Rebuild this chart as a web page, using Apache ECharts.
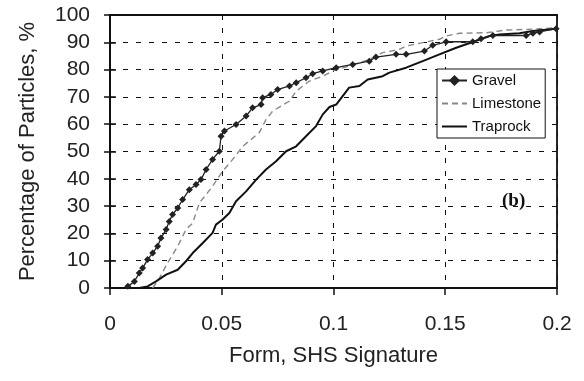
<!DOCTYPE html>
<html>
<head>
<meta charset="utf-8">
<script src="https://cdn.jsdelivr.net/npm/echarts@6/dist/echarts.min.js"></script>
<style>
  html, body { margin: 0; padding: 0; background: #fff; }
  #chart { width: 584px; height: 381px; }
</style>
</head>
<body>
<div id="chart"></div>
<script>
// x = Form (SHS signature), y = cumulative percentage of particles
var gravel = [
  [0.008, 0.6], [0.0109, 2.4], [0.0131, 5.5], [0.0146, 7.3], [0.0168, 10.4],
  [0.0191, 12.8], [0.0213, 15.3], [0.0228, 18.3], [0.0251, 21.4], [0.0265, 24.4],
  [0.028, 26.9], [0.0303, 29.3], [0.0325, 32.4], [0.0355, 36], [0.0385, 37.9],
  [0.0407, 39.7], [0.043, 43.4], [0.0459, 47.1], [0.0489, 50.1], [0.0497, 55.6],
  [0.0512, 57.5], [0.0564, 59.9], [0.0609, 63], [0.0638, 66], [0.0676, 67.2],
  [0.0683, 69.7], [0.072, 70.9], [0.075, 72.7], [0.0803, 74], [0.0833, 75.2],
  [0.0877, 77], [0.0907, 78.5], [0.0952, 79.5], [0.1012, 80.7], [0.1086, 81.9],
  [0.116, 83.1], [0.119, 84.6], [0.128, 85.6], [0.1325, 85.6], [0.1407, 86.8],
  [0.1444, 88.9], [0.1504, 90.2], [0.1623, 90.2], [0.166, 91.3], [0.1713, 92.5],
  [0.1862, 92.5], [0.1892, 93.3], [0.1922, 93.8], [0.1996, 95]
];
var limestone = [
  [0.019, 0], [0.0213, 2.4], [0.0258, 9.2], [0.0303, 15.3], [0.034, 21.4],
  [0.037, 23.8], [0.04, 31.2], [0.043, 34.2], [0.0459, 37.3], [0.0504, 42.8],
  [0.0549, 47.1], [0.0594, 51.9], [0.0668, 56.9], [0.0698, 61.7], [0.0728, 64.8],
  [0.0803, 68.5], [0.0833, 72.1], [0.0892, 75.8], [0.0952, 77.6], [0.0996, 79.5],
  [0.107, 81.3], [0.116, 83.7], [0.122, 86.2], [0.1295, 87.4], [0.1325, 88.6],
  [0.1399, 89.9], [0.1474, 91.1], [0.1504, 92.3], [0.1563, 93.3], [0.1683, 93.5],
  [0.1772, 94.5], [0.1862, 94.7], [0.1996, 95.3]
];
var traprock = [
  [0.0131, 0], [0.0168, 0.6], [0.0206, 2.4], [0.0251, 4.9], [0.0303, 6.7],
  [0.034, 9.8], [0.037, 12.8], [0.0415, 16.5], [0.0459, 20.2], [0.0474, 23.2],
  [0.0504, 25.1], [0.0534, 27.5], [0.0564, 31.8], [0.0609, 35.4], [0.0654, 39.7],
  [0.0698, 43.4], [0.0743, 46.4], [0.0788, 50.1], [0.0833, 51.9], [0.0877, 55.6],
  [0.0922, 59.3], [0.0952, 63.6], [0.0982, 66.3], [0.1012, 67.2], [0.1041, 70.3],
  [0.107, 73.4], [0.1116, 74], [0.1153, 76.4], [0.122, 77.6], [0.125, 78.9],
  [0.1325, 80.7], [0.1399, 83.1], [0.1474, 85.6], [0.1549, 88], [0.1623, 90.1],
  [0.1698, 92.3], [0.1743, 92.9], [0.1832, 93.3], [0.1892, 94.1], [0.1996, 95]
];
var seriesNames = ['Gravel', 'Limestone', 'Traprock'];

var font = "'Liberation Sans', Arial, sans-serif";
var myChart = echarts.init(document.getElementById('chart'));

var option = {
  animation: false,
  backgroundColor: '#fff',
  grid: {
    left: 110, top: 15, width: 447, height: 273,
    show: true, borderColor: '#111', borderWidth: 1.8
  },
  legend: {
    orient: 'vertical',
    left: 437, top: 69,
    padding: [4, 4, 4, 4],
    itemWidth: 25, itemHeight: 14, itemGap: 8,
    backgroundColor: '#fff',
    borderColor: '#111', borderWidth: 1,
    textStyle: { fontFamily: font, fontSize: 15, color: '#111' },
    data: [
      { name: seriesNames[0] },
      { name: seriesNames[1], itemStyle: { opacity: 0 } },
      { name: seriesNames[2], itemStyle: { opacity: 0 } }
    ]
  },
  xAxis: {
    type: 'value', min: 0, max: 0.2, interval: 0.05,
    name: 'Form, SHS Signature', nameLocation: 'middle', nameGap: 57,
    nameTextStyle: { fontFamily: font, fontSize: 22, color: '#222' },
    axisLine: { onZero: false, lineStyle: { color: '#111', width: 2 } },
    axisTick: { show: true, length: 7, lineStyle: { color: '#111', width: 1.5 } },
    axisLabel: { margin: 26, fontFamily: font, fontSize: 21, color: '#222' },
    splitLine: { show: true, lineStyle: { color: '#111', width: 1, type: [5, 8] } }
  },
  yAxis: [{
    type: 'value', min: 0, max: 100, interval: 10,
    name: 'Percentage of Particles, %', nameLocation: 'middle', nameGap: 71,
    nameTextStyle: { fontFamily: font, fontSize: 22, color: '#222' },
    axisLine: { show: true, onZero: false, lineStyle: { color: '#111', width: 2 } },
    axisTick: { show: true, length: 6, lineStyle: { color: '#111', width: 1.5 } },
    axisLabel: { margin: 20, fontFamily: font, fontSize: 21, color: '#222' },
    splitLine: { show: true, lineStyle: { color: '#111', width: 1, type: [5, 8] } }
  }, {
    // inner half of the crossing y ticks
    type: 'value', min: 0, max: 100, interval: 10, position: 'left',
    axisLine: { show: false },
    axisTick: { show: true, inside: true, length: 6, lineStyle: { color: '#111', width: 1.5 } },
    axisLabel: { show: false },
    splitLine: { show: false }
  }],
  graphic: [{
    type: 'text', left: 502, top: 192,
    style: { text: '(b)', fontFamily: "'Liberation Serif', 'Times New Roman', serif",
      fontWeight: 'bold', fontSize: 19, fill: '#111' }
  }],
  series: [{
    name: seriesNames[0], type: 'line', data: gravel, z: 4,
    symbol: 'diamond', symbolSize: 7, showSymbol: true,
    itemStyle: { color: '#222' },
    lineStyle: { color: '#222', width: 1.3 }
  }, {
    name: seriesNames[1], type: 'line', data: limestone, z: 3,
    symbol: 'none',
    itemStyle: { color: '#888' },
    lineStyle: { color: '#888', width: 1.4, type: [6, 4] }
  }, {
    name: seriesNames[2], type: 'line', data: traprock, z: 3,
    symbol: 'none',
    itemStyle: { color: '#111' },
    lineStyle: { color: '#111', width: 2 }
  }]
};

myChart.setOption(option);
</script>
</body>
</html>
